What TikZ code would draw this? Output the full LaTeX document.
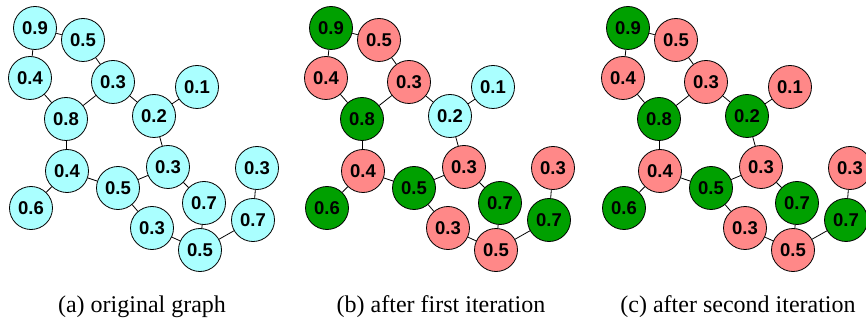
\documentclass[tikz,border=0pt]{standalone}
\usepackage{fontspec}
\setmainfont{Liberation Serif}
\setsansfont{Liberation Sans}
\definecolor{lightcyan}{HTML}{AAFFFF}
\definecolor{salmon}{HTML}{FF8888}
\definecolor{leafgreen}{HTML}{00A000}
\tikzset{
	vertex/.style = {circle, draw = black, line width = 0.8pt, minimum size = 43pt, inner sep = 0pt,
		font = \sffamily\bfseries\fontsize{18.5}{20}\selectfont},
	open/.style = {vertex, fill = lightcyan},
	drop/.style = {vertex, fill = salmon},
	keep/.style = {vertex, fill = leafgreen},
	caption/.style = {anchor = base, font = \fontsize{24}{28}\selectfont}
}
\begin{document}
\begin{tikzpicture}[x = 1pt, y = -1pt]
	\useasboundingbox (0,0) rectangle (866,320);
	% (a) original graph
	\node [open] (a1) at (35,28) {0.9};
	\node [open] (a2) at (83,40) {0.5};
	\node [open] (a3) at (30,78) {0.4};
	\node [open] (a4) at (113,82) {0.3};
	\node [open] (a5) at (197,87) {0.1};
	\node [open] (a6) at (66,119) {0.8};
	\node [open] (a7) at (154,116) {0.2};
	\node [open] (a8) at (67,171) {0.4};
	\node [open] (a9) at (168,167) {0.3};
	\node [open] (a10) at (257,168) {0.3};
	\node [open] (a11) at (118,188) {0.5};
	\node [open] (a12) at (31,208) {0.6};
	\node [open] (a13) at (204,203) {0.7};
	\node [open] (a14) at (253,220) {0.7};
	\node [open] (a15) at (152,228) {0.3};
	\node [open] (a16) at (200,250) {0.5};
	\node [caption] (capa) at (142,312) {(a) original graph};
	% (b) after first iteration
	\begin{scope}[xshift = 296pt]
		\node [keep] (b1) at (35,28) {0.9};
		\node [drop] (b2) at (83,40) {0.5};
		\node [drop] (b3) at (30,78) {0.4};
		\node [drop] (b4) at (113,82) {0.3};
		\node [open] (b5) at (197,87) {0.1};
		\node [keep] (b6) at (66,119) {0.8};
		\node [open] (b7) at (154,116) {0.2};
		\node [drop] (b8) at (67,171) {0.4};
		\node [drop] (b9) at (168,167) {0.3};
		\node [drop] (b10) at (257,168) {0.3};
		\node [keep] (b11) at (118,188) {0.5};
		\node [keep] (b12) at (31,208) {0.6};
		\node [keep] (b13) at (204,203) {0.7};
		\node [keep] (b14) at (253,220) {0.7};
		\node [drop] (b15) at (152,228) {0.3};
		\node [drop] (b16) at (200,250) {0.5};
	\end{scope}
	\node [caption] (capb) at (441,312) {(b) after first iteration};
	% (c) after second iteration
	\begin{scope}[xshift = 593pt]
		\node [keep] (c1) at (35,28) {0.9};
		\node [drop] (c2) at (83,40) {0.5};
		\node [drop] (c3) at (30,78) {0.4};
		\node [drop] (c4) at (113,82) {0.3};
		\node [drop] (c5) at (197,87) {0.1};
		\node [keep] (c6) at (66,119) {0.8};
		\node [keep] (c7) at (154,116) {0.2};
		\node [drop] (c8) at (67,171) {0.4};
		\node [drop] (c9) at (168,167) {0.3};
		\node [drop] (c10) at (257,168) {0.3};
		\node [keep] (c11) at (118,188) {0.5};
		\node [keep] (c12) at (31,208) {0.6};
		\node [keep] (c13) at (204,203) {0.7};
		\node [keep] (c14) at (253,220) {0.7};
		\node [drop] (c15) at (152,228) {0.3};
		\node [drop] (c16) at (200,250) {0.5};
	\end{scope}
	\node [caption] (capc) at (738,312) {(c) after second iteration};
	% edges, same in all three
	\foreach \g in {a,b,c}
		\foreach \u/\v in {1/2, 1/3, 2/4, 3/6, 6/4, 4/7, 7/5, 7/9, 6/8, 8/12, 8/11, 11/9, 9/13, 11/15, 15/16, 13/16, 16/14, 14/10}
			\draw [line width = 0.8pt] (\g\u) -- (\g\v);
\end{tikzpicture}
\end{document}
